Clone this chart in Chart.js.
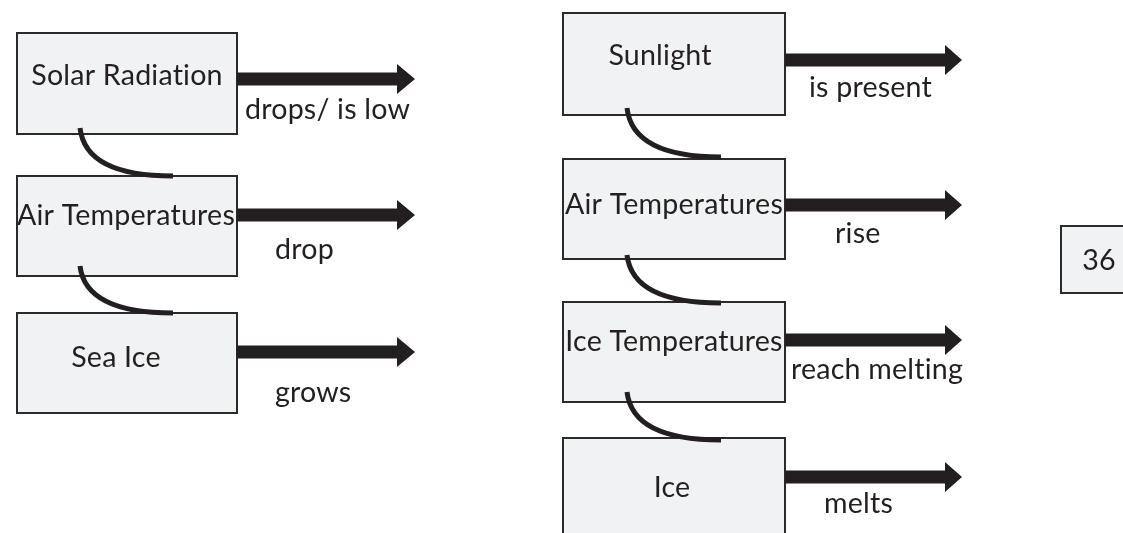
<!DOCTYPE html>
<html>
<head>
<meta charset="utf-8">
<script src="https://cdn.jsdelivr.net/npm/chart.js@4.4.1/dist/chart.umd.min.js"></script>
<style>
  html, body { margin: 0; padding: 0; background: #ffffff; }
  #c { display: block; font-variant-ligatures: none; }
</style>
</head>
<body>
<canvas id="c" width="1123" height="533"></canvas>
<script>
// ---- diagram content (diagram units = page units) ----
const boxLabels   = ['Solar Radiation', 'Air Temperatures', 'Sea Ice', 'Sunlight', 'Air Temperatures', 'Ice Temperatures', 'Ice'];
const boxLeft     = [17, 17, 17, 563, 563, 563, 563];
const boxRight    = [237, 237, 237, 785, 785, 785, 785];
const boxTop      = [33, 176, 313, 13, 159, 302, 438];
const boxBottom   = [134, 276, 413, 115, 259, 402, 560];
const labelCenterX = [127, 126, 116, 660, 674, 674, 672];
const labelBaseY   = [85, 225, 367, 65, 214, 351, 497];

const arrowLabels  = ['drops/ is low', 'drop', 'grows', 'is present', 'rise', 'reach melting', 'melts'];
const arrowY       = [79, 215, 352, 60, 205, 340, 477];
const arrowHeadX   = [397, 397, 397, 945, 945, 945, 945];
const arrowTipX    = [415, 415, 415, 962, 962, 962, 962];
const arrowLabelX  = [245, 275, 275, 809, 835, 791, 824];
const arrowLabelY  = [119, 259, 402, 97, 243, 379, 513];

// connectors: from box i bottom (inside) to box i+1 top
const linkFrom     = [0, 1, 3, 4, 5];
const linkStartX   = [80, 80, 627, 627, 627];
const linkStartY   = [128, 266, 108, 255, 392];
const linkEndX     = [173, 173, 721, 721, 721];
const linkEndY     = [176, 313, 157, 303, 440];

const pageLabel = '36';
const pageBox = { left: 1061, right: 1140, top: 226, bottom: 293, textX: 1099, textY: 270 };

// ---- styles ----
const INK = '#231f20';
const BOX_FILL = '#f1f2f4';
const FONT = '28.6px Lato, "Open Sans", sans-serif';

const diagramPlugin = {
  id: 'diagram',
  afterDatasetsDraw(chart) {
    const ctx = chart.ctx;
    const xs = chart.scales.x, ys = chart.scales.y;
    const X = v => xs.getPixelForValue(v);
    const Y = v => ys.getPixelForValue(v);
    ctx.save();

    // boxes
    ctx.lineWidth = 2;
    ctx.strokeStyle = '#2b2b2b';
    ctx.fillStyle = BOX_FILL;
    for (let i = 0; i < boxLabels.length; i++) {
      const x0 = X(boxLeft[i]), x1 = X(boxRight[i]);
      const y0 = Y(boxTop[i]), y1 = Y(boxBottom[i]);
      ctx.fillRect(x0, y0, x1 - x0, y1 - y0);
      ctx.strokeRect(x0, y0, x1 - x0, y1 - y0);
    }
    // page number box
    {
      const x0 = X(pageBox.left), x1 = X(pageBox.right);
      const y0 = Y(pageBox.top), y1 = Y(pageBox.bottom);
      ctx.fillRect(x0, y0, x1 - x0, y1 - y0);
      ctx.strokeRect(x0, y0, x1 - x0, y1 - y0);
    }

    // connectors
    ctx.strokeStyle = INK;
    ctx.lineWidth = 5;
    ctx.lineCap = 'butt';
    for (let i = 0; i < linkFrom.length; i++) {
      const sx = X(linkStartX[i]), sy = Y(linkStartY[i]);
      const ex = X(linkEndX[i]), ey = Y(linkEndY[i]);
      const cx = X(linkStartX[i] + (linkEndX[i] - linkStartX[i]) * 0.06);
      ctx.beginPath();
      ctx.moveTo(sx, sy);
      ctx.quadraticCurveTo(cx, ey, ex, ey);
      ctx.stroke();
    }

    // arrows
    ctx.fillStyle = INK;
    for (let i = 0; i < arrowLabels.length; i++) {
      const x0 = X(boxRight[i]), xh = X(arrowHeadX[i]), xt = X(arrowTipX[i]);
      const yc = Y(arrowY[i]);
      const shaft = 6.5, head = 15;
      ctx.beginPath();
      ctx.moveTo(x0, yc - shaft);
      ctx.lineTo(xh, yc - shaft);
      ctx.lineTo(xh, yc - head);
      ctx.lineTo(xt, yc);
      ctx.lineTo(xh, yc + head);
      ctx.lineTo(xh, yc + shaft);
      ctx.lineTo(x0, yc + shaft);
      ctx.closePath();
      ctx.fill();
    }

    // texts (letterSpacing keeps Lato from forming the "ti" ligature)
    ctx.font = FONT;
    if ('letterSpacing' in ctx) ctx.letterSpacing = '0.2px';
    ctx.fillStyle = INK;
    ctx.textBaseline = 'alphabetic';
    ctx.textAlign = 'center';
    for (let i = 0; i < boxLabels.length; i++) {
      ctx.fillText(boxLabels[i], X(labelCenterX[i]), Y(labelBaseY[i]));
    }
    ctx.fillText(pageLabel, X(pageBox.textX), Y(pageBox.textY));
    ctx.textAlign = 'left';
    for (let i = 0; i < arrowLabels.length; i++) {
      ctx.fillText(arrowLabels[i], X(arrowLabelX[i]), Y(arrowLabelY[i]));
    }
    ctx.restore();
  }
};

new Chart(document.getElementById('c'), {
  type: 'scatter',
  data: {
    datasets: [{
      label: 'boxes',
      data: boxLabels.map((_, i) => ({ x: (boxLeft[i] + boxRight[i]) / 2, y: (boxTop[i] + boxBottom[i]) / 2 })),
      pointRadius: 0
    }]
  },
  options: {
    responsive: false,
    animation: false,
    events: [],
    layout: { padding: 0 },
    plugins: { legend: { display: false }, tooltip: { enabled: false }, title: { display: false } },
    scales: {
      x: { type: 'linear', min: 0, max: 1123, display: false },
      y: { type: 'linear', min: 0, max: 533, reverse: true, display: false }
    }
  },
  plugins: [diagramPlugin]
});
</script>
</body>
</html>
